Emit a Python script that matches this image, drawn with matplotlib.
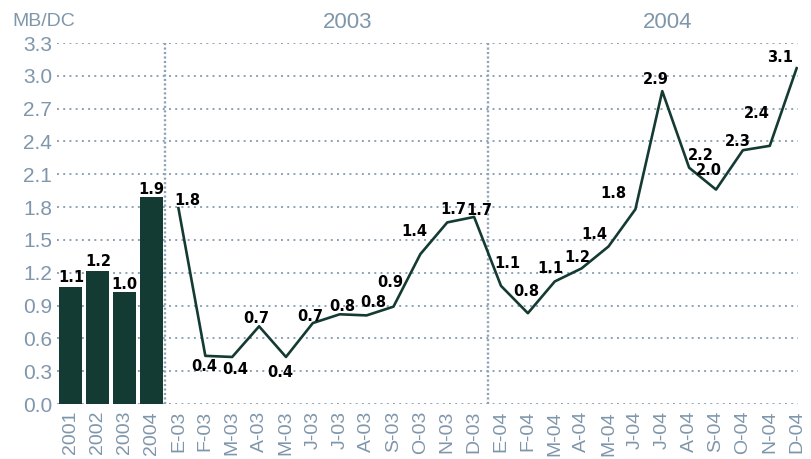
import numpy as np
import matplotlib
matplotlib.use("Agg")
import matplotlib.pyplot as plt

# data
years = ['2001', '2002', '2003', '2004']
year_vals = [1.07, 1.22, 1.02, 1.89]

months = ['E-03', 'F-03', 'M-03', 'A-03', 'M-03', 'J-03', 'J-03', 'A-03', 'S-03', 'O-03', 'N-03', 'D-03',
          'E-04', 'F-04', 'M-04', 'A-04', 'M-04', 'J-04', 'J-04', 'A-04', 'S-04', 'O-04', 'N-04', 'D-04']
month_vals = [1.79, 0.44, 0.43, 0.71, 0.43, 0.74, 0.82, 0.81, 0.89, 1.37, 1.66, 1.71,
              1.08, 0.83, 1.12, 1.24, 1.44, 1.78, 2.86, 2.16, 1.96, 2.32, 2.36, 3.07]

# label offsets in pixels (dx right, dy up)
bar_offsets = [(0, 9), (0, 9), (0, 8), (0, 8)]
line_offsets = [(9, 8), (-1, -11), (3, -13), (-3, 8), (-6, -16), (-3, 7), (3, 8), (7, 13), (-3, 24),
                (-6, 23), (6, 13), (5, 6), (6, 22), (-2, 22), (-4, 13), (-4, 11), (-14, 12), (-22, 16),
                (-6, 12), (12, 12), (-7, 19), (-5, 9), (-13, 32), (-17, 11)]

dark = '#143b33'
grey = '#7f96ab'
grid_c = '#8ea2b6'

fig = plt.figure(figsize=(8.12, 4.59), dpi=100)
ax = fig.add_axes([57.5 / 812, 55 / 459, (798 - 57.5) / 812, 361 / 459])

xb = np.arange(len(years))
xm = np.arange(len(months)) + len(years)

ax.bar(xb, year_vals, width=0.86, color=dark, zorder=3)
ax.plot(xm, month_vals, color=dark, linewidth=1.9, zorder=3)

for x, v, (dx, dy) in zip(xb, year_vals, bar_offsets):
    ax.annotate(f"{v:.1f}", (x, v), xytext=(dx, dy), textcoords='offset pixels',
                ha='center', va='center', fontsize=10.5, fontweight='bold', color='black', zorder=4)
for x, v, (dx, dy) in zip(xm, month_vals, line_offsets):
    ax.annotate(f"{v:.1f}", (x, v), xytext=(dx, dy), textcoords='offset pixels',
                ha='center', va='center', fontsize=10.5, fontweight='bold', color='black', zorder=4)

yt = np.round(np.arange(0, 3.31, 0.3), 1)
for y in yt:
    ax.axhline(y, color=grid_c, linestyle=(0, (1, 2.2)), linewidth=1.4, zorder=1)
for xv in [3.5, 15.5]:
    ax.axvline(xv, color=grid_c, linestyle=(0, (0.9, 1.0)), linewidth=1.7, zorder=1)

ax.set_xlim(-0.5, 27.05)
ax.set_ylim(0, 3.3)
ax.set_yticks(yt)
ax.set_yticklabels([f"{y:.1f}" for y in yt], fontsize=15, color=grey, family='Liberation Sans')
ax.set_xticks(np.concatenate([xb, xm]))
ax.set_xticklabels(years + months, rotation=90, va='top', fontsize=14, color=grey, family='Liberation Sans')
ax.tick_params(length=0, axis='y', pad=4)
ax.tick_params(length=0, axis='x', pad=5)
for s in ax.spines.values():
    s.set_visible(False)

fig.text(12 / 812, 1 - 22 / 459, 'MB/DC', fontsize=14, color=grey, family='Liberation Sans', va='center')
fig.text(348 / 812, 1 - 23 / 459, '2003', fontsize=16, color=grey, family='Liberation Sans', ha='center', va='center')
fig.text(668 / 812, 1 - 23 / 459, '2004', fontsize=16, color=grey, family='Liberation Sans', ha='center', va='center')

fig.savefig('out.png', dpi=100)
